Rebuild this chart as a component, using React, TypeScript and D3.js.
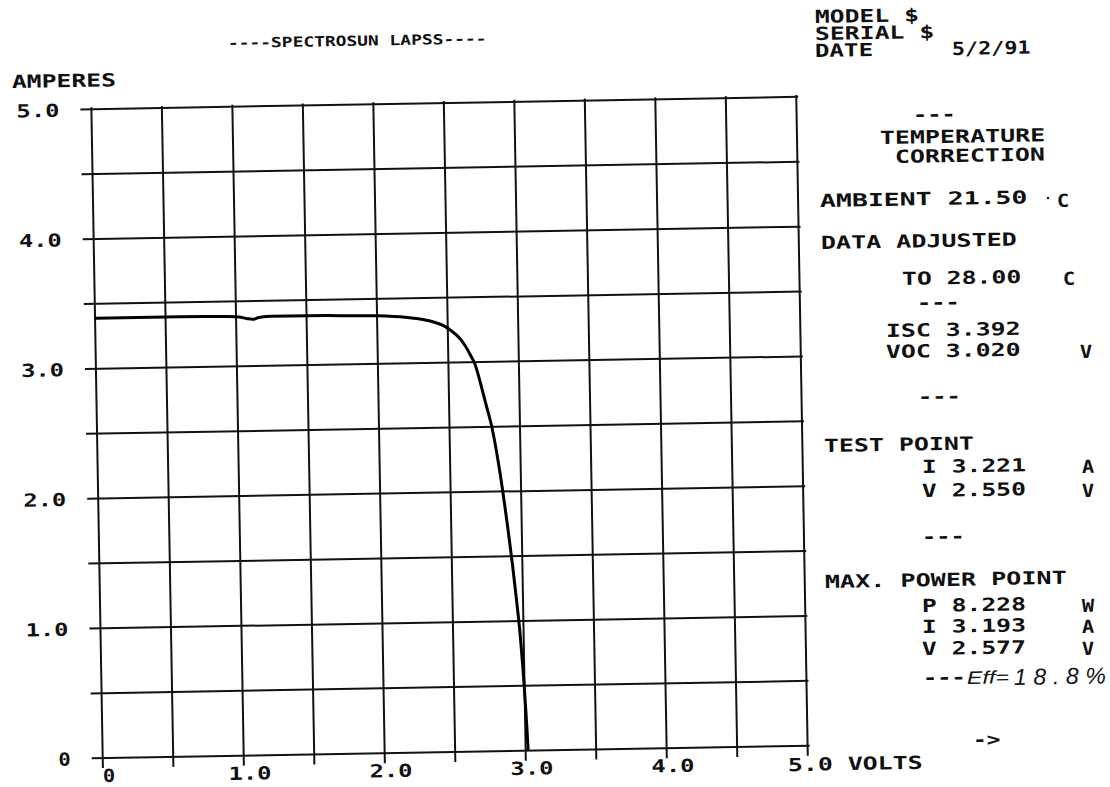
import React from "react";
import * as d3 from "d3";

// I-V curve (volts, amperes)
const volts = [0, 0.3, 0.6, 0.9, 1.02, 1.08, 1.12, 1.17, 1.25, 1.5, 1.8, 2.0, 2.2, 2.3, 2.4, 2.47, 2.53, 2.58, 2.62, 2.66, 2.69, 2.72, 2.76, 2.8, 2.84, 2.87, 2.9, 2.93, 2.955, 2.975, 2.99, 3.0, 3.01, 3.018];
const amps = [3.39, 3.39, 3.39, 3.385, 3.38, 3.365, 3.36, 3.375, 3.38, 3.38, 3.375, 3.37, 3.355, 3.34, 3.315, 3.285, 3.24, 3.19, 3.13, 3.05, 2.98, 2.86, 2.68, 2.5, 2.24, 2.0, 1.73, 1.43, 1.15, 0.9, 0.65, 0.45, 0.22, 0];

const xTicks = [0, 1, 2, 3, 4];
const xTickLabels = ["0", "1.0", "2.0", "3.0", "4.0"];
const yTicks = [0, 1, 2, 3, 4, 5];
const yTickLabels = ["0", "1.0", "2.0", "3.0", "4.0", "5.0"];
const gridValues = d3.range(0, 5.01, 0.5);

const title = "----SPECTROSUN LAPSS----";
const header = ["MODEL $", "SERIAL $", "DATE"];
const testDate = "5/2/91";

const FONT = "'DejaVu Sans Mono', monospace";
const ROT = -1; // the scan is slightly tilted
const CHAR_W = 15.3; // plotter character cell

// plot box in the un-tilted frame
const left = 97;
const right = 802;
const top = 103;
const bottom = 752;
const cx = (left + right) / 2;
const cy = (top + bottom) / 2;

const x = d3.scaleLinear().domain([0, 5]).range([left, right]);
const y = d3.scaleLinear().domain([0, 5]).range([bottom, top]);

const points: [number, number][] = volts.map((v, i) => [v, amps[i]]);
const linePath = d3
  .line<[number, number]>()
  .x((d) => x(d[0]))
  .y((d) => y(d[1]))
  .curve(d3.curveMonotoneX)(points);

const textLen = (s: string, w = CHAR_W) => s.length * w - 3;

type LProps = {
  x: number;
  y: number;
  s: string;
  size?: number;
  w?: number;
  anchor?: string;
  rotate?: boolean;
};

// plotter style label: stretched monospace, tilted like the scan
const L = ({ x, y, s, size = 18, w = CHAR_W, anchor = "start", rotate = true }: LProps) => (
  <text
    x={x}
    y={y}
    transform={rotate ? `rotate(${ROT} ${x} ${y})` : undefined}
    fontFamily={FONT}
    fontWeight="bold"
    fontSize={size}
    textAnchor={anchor}
    textLength={textLen(s, w)}
    lengthAdjust="spacingAndGlyphs"
    fill="#111"
  >
    {s}
  </text>
);

export default function App() {
  return (
    <svg
      width={1110}
      height={787}
      style={{ position: "absolute", left: 0, top: 0, background: "#fff" }}
    >
      <g transform={`rotate(${ROT} ${cx} ${cy})`}>
        {/* horizontal grid, ticks sticking out on the left */}
        {gridValues.map((v) => (
          <line
            key={"h" + v}
            x1={left - 11}
            x2={right + 2}
            y1={y(v)}
            y2={y(v)}
            stroke="#111"
            strokeWidth={2}
          />
        ))}
        {/* vertical grid, ticks below */}
        {gridValues.map((v) => (
          <line
            key={"v" + v}
            x1={x(v)}
            x2={x(v)}
            y1={top - 2}
            y2={bottom + 10}
            stroke="#111"
            strokeWidth={2}
          />
        ))}

        <path d={linePath || ""} fill="none" stroke="#000" strokeWidth={3} strokeLinejoin="round" />

        {yTicks.map((v, i) => (
          <L key={"yl" + v} x={left - 32} y={y(v) + 7} s={yTickLabels[i]} anchor="end" rotate={false} />
        ))}
        {xTicks.map((v, i) => (
          <L key={"xl" + v} x={x(v) + 6} y={bottom + 24} s={xTickLabels[i]} anchor="middle" rotate={false} />
        ))}
        <L x={x(5) - 20} y={bottom + 25} s="5.0 VOLTS" rotate={false} />
      </g>

      {/* header */}
      <L x={228} y={48} s={title} size={14} w={10.9} />
      <L x={815} y={23} s={header[0]} />
      <L x={815} y={40} s={header[1]} />
      <L x={815} y={57} s={header[2]} />
      <L x={952} y={55} s={testDate} w={13.6} />
      <L x={12} y={88} s="AMPERES" />

      {/* right panel */}
      <L x={913} y={121} s="---" />
      <L x={880} y={144} s="TEMPERATURE" />
      <L x={895} y={163} s="CORRECTION" />
      <L x={820} y={207} s="AMBIENT 21.50" w={16.2} />
      <circle cx={1048} cy={198} r={1.2} fill="#111" />
      <L x={1057} y={207} s="C" />
      <L x={821} y={249} s="DATA ADJUSTED" />
      <L x={902} y={285} s="TO 28.00" />
      <L x={1063} y={285} s="C" />
      <L x={917} y={309} s="---" />
      <L x={886} y={337} s="ISC 3.392" />
      <L x={886} y={358} s="VOC 3.020" />
      <L x={1080} y={358} s="V" />
      <L x={918} y={403} s="---" />
      <L x={824} y={452} s="TEST POINT" />
      <L x={922} y={473} s="I 3.221" />
      <L x={1082} y={473} s="A" />
      <L x={922} y={497} s="V 2.550" />
      <L x={1082} y={497} s="V" />
      <L x={922} y={543} s="---" />
      <L x={825} y={588} s="MAX. POWER POINT" />
      <L x={922} y={612} s="P 8.228" />
      <L x={1082} y={612} s="W" />
      <L x={922} y={633} s="I 3.193" />
      <L x={1082} y={633} s="A" />
      <L x={922} y={655} s="V 2.577" />
      <L x={1082} y={655} s="V" />
      <L x={923} y={684} s="---" />
      <text
        x={967}
        y={684}
        transform={`rotate(${ROT} 967 684)`}
        fontFamily="'Liberation Sans', sans-serif"
        fontStyle="italic"
        fontSize={18}
        textLength={42}
        lengthAdjust="spacingAndGlyphs"
        fill="#111"
      >
        Eff=
      </text>
      <text
        x={1014}
        y={685}
        transform={`rotate(${ROT} 1014 685)`}
        fontFamily="'Liberation Sans', sans-serif"
        fontStyle="italic"
        fontSize={23}
        textLength={92}
        lengthAdjust="spacing"
        fill="#111"
      >
        18.8%
      </text>
      <L x={973} y={746} s="->" />
    </svg>
  );
}
